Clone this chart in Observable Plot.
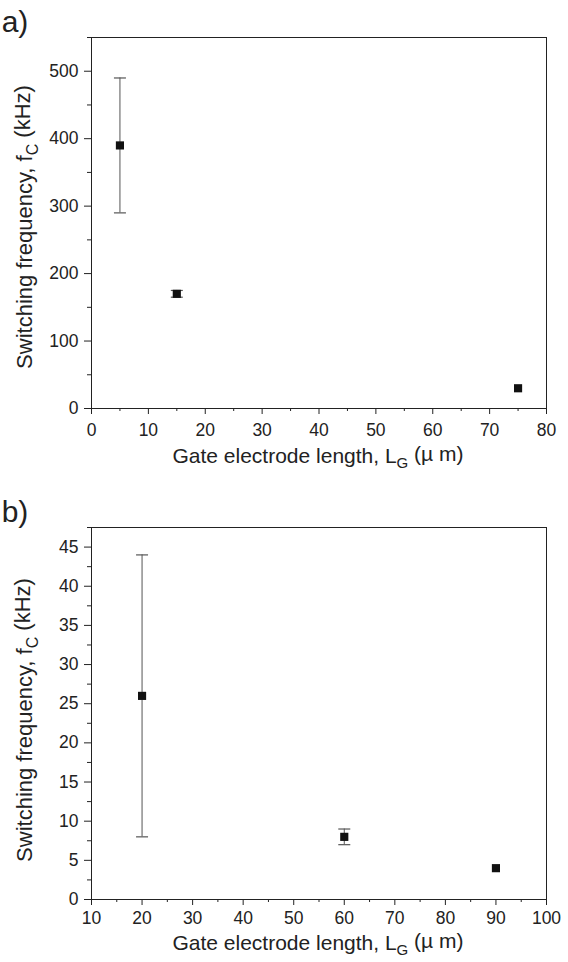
<!DOCTYPE html>
<html><head><meta charset="utf-8">
<script src="https://cdn.jsdelivr.net/npm/d3@7"></script>
<script src="https://cdn.jsdelivr.net/npm/@observablehq/plot@0.6"></script>
<style>body{margin:0;background:#fff} svg{display:block}</style>
</head><body><div id="c"></div>
<script>
// Panel a
const lengthA = [5, 15, 75];
const freqA = [390, 170, 30];
const errA = [100, 5, 0];
const xTicksA = [0, 10, 20, 30, 40, 50, 60, 70, 80];
const xMinorA = [5, 15, 25, 35, 45, 55, 65, 75];
const yTicksA = [0, 100, 200, 300, 400, 500];
const yMinorA = [50, 150, 250, 350, 450, 550];
// Panel b
const lengthB = [20, 60, 90];
const freqB = [26, 8, 4];
const errB = [18, 1, 0];
const xTicksB = [10, 20, 30, 40, 50, 60, 70, 80, 90, 100];
const xMinorB = [15, 25, 35, 45, 55, 65, 75, 85, 95];
const yTicksB = [0, 5, 10, 15, 20, 25, 30, 35, 40, 45];
const yMinorB = [2.5, 7.5, 12.5, 17.5, 22.5, 27.5, 32.5, 37.5, 42.5, 47.5];

const capSymbol = {draw(ctx, size) { const r = Math.sqrt(size / Math.PI); ctx.moveTo(-r, 0); ctx.lineTo(r, 0); }};
const ink = "#222";
const FONT = "'Liberation Sans', Arial, sans-serif";

function panel(opts) {
  const data = opts.xs.map((x, i) => ({x, y: opts.ys[i], lo: opts.ys[i] - opts.errs[i], hi: opts.ys[i] + opts.errs[i], e: opts.errs[i]}));
  const bars = data.filter(d => d.e > 0);
  const svg = Plot.plot({
    width: 568, height: 481,
    marginLeft: 91, marginRight: 22, marginTop: opts.mt, marginBottom: opts.mb,
    x: {domain: opts.xDomain}, y: {domain: opts.yDomain},
    style: {fontFamily: FONT, fontSize: "17.5px", color: ink, background: "#fff"},
    marks: [
      Plot.axisX({ticks: opts.xTicks, tickSize: 6, tickPadding: opts.xPad, label: null, tickFormat: d => String(d), fontSize: 17.5}),
      Plot.axisX({ticks: opts.xMinor, tickSize: 3, text: null, label: null}),
      Plot.axisY({ticks: opts.yTicks, tickSize: 7, tickPadding: 6, label: null, tickFormat: d => String(d), fontSize: 17.5}),
      Plot.axisY({ticks: opts.yMinor, tickSize: 4, text: null, label: null}),
      Plot.ruleX(bars, {x: "x", y1: "lo", y2: "hi", stroke: "#555", strokeWidth: 1}),
      Plot.dot(bars, {x: "x", y: "lo", symbol: capSymbol, r: 6, fill: "none", stroke: "#555", strokeWidth: 1.2}),
      Plot.dot(bars, {x: "x", y: "hi", symbol: capSymbol, r: 6, fill: "none", stroke: "#555", strokeWidth: 1.2}),
      Plot.dot(data, {x: "x", y: "y", symbol: "square", r: 4.6, fill: "#111", stroke: "none"}),
      Plot.frame({stroke: ink, strokeWidth: 1})
    ]
  });
  const s = d3.select(svg);
  s.append("text").attr("x", 15).attr("y", opts.labelY).attr("font-size", 30).attr("font-family", FONT).attr("fill", ink).text(opts.tag);
  const xl = s.append("text").attr("x", 318).attr("y", opts.xLabelY).attr("text-anchor", "middle").attr("font-size", 21).attr("font-family", FONT).attr("fill", ink);
  xl.append("tspan").text("Gate electrode length, L");
  xl.append("tspan").attr("dy", "0.35em").attr("font-size", 15).text("G");
  xl.append("tspan").attr("dy", "-0.35em").text(" (\u00b5 m)");
  const yl = s.append("text").attr("transform", `translate(32,${opts.yLabelC}) rotate(-90)`).attr("text-anchor", "middle").attr("font-size", 22).attr("font-family", FONT).attr("fill", ink);
  yl.append("tspan").text("Switching frequency, f");
  yl.append("tspan").attr("dy", "0.35em").attr("font-size", 16).text("C");
  yl.append("tspan").attr("dy", "-0.35em").text(" (kHz)");
  return svg;
}

const c = document.getElementById("c");
c.appendChild(panel({xs: lengthA, ys: freqA, errs: errA, xDomain: [0, 80], yDomain: [0, 550],
  xTicks: xTicksA, xMinor: xMinorA, yTicks: yTicksA, yMinor: yMinorA, mt: 37, mb: 73, tag: "a)", labelY: 32, yLabelC: 227, xPad: 9, xLabelY: 463}));
c.appendChild(panel({xs: lengthB, ys: freqB, errs: errB, xDomain: [10, 100], yDomain: [0, 47.5],
  xTicks: xTicksB, xMinor: xMinorB, yTicks: yTicksB, yMinor: yMinorB, mt: 46, mb: 63, tag: "b)", labelY: 41, yLabelC: 239, xPad: 6, xLabelY: 469}));
</script>
</body></html>
